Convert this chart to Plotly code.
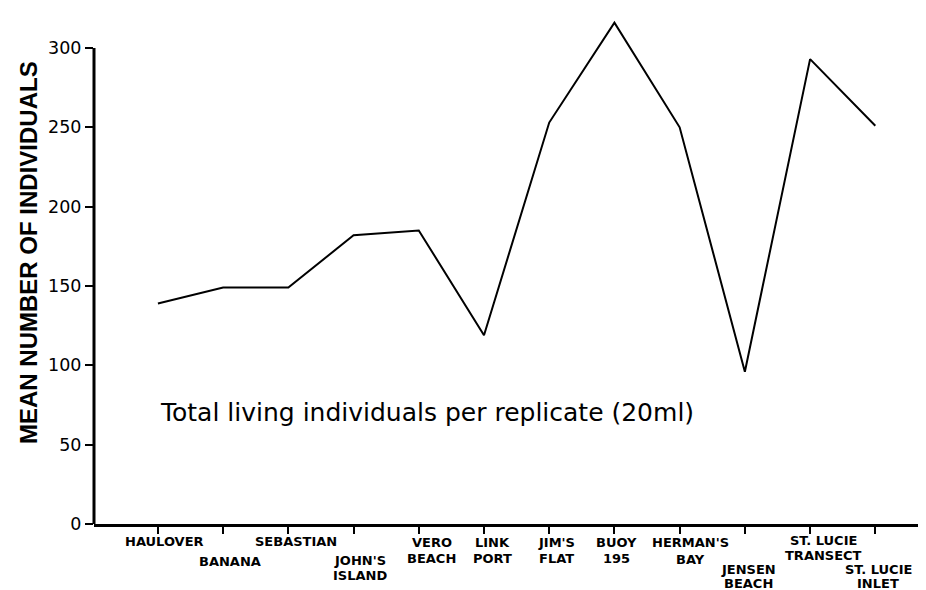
import plotly.graph_objects as go

# ---- data ----
stations = ["HAULOVER", "BANANA", "SEBASTIAN", "JOHN'S ISLAND", "VERO BEACH", "LINK PORT",
            "JIM'S FLAT", "BUOY 195", "HERMAN'S BAY", "JENSEN BEACH", "ST. LUCIE TRANSECT",
            "ST. LUCIE INLET"]
tick_lines = [["HAULOVER"], ["BANANA"], ["SEBASTIAN"], ["JOHN'S", "ISLAND"], ["VERO", "BEACH"],
              ["LINK", "PORT"], ["JIM'S", "FLAT"], ["BUOY", "195"], ["HERMAN'S", "BAY"],
              ["JENSEN", "BEACH"], ["ST. LUCIE", "TRANSECT"], ["ST. LUCIE", "INLET"]]
mean_individuals = [139, 149, 149, 182, 185, 119, 253, 316, 250, 96, 293, 251]
y_ticks = [0, 50, 100, 150, 200, 250, 300]

# ---- styling (pixel offsets of label lines below the x axis, and sideways nudges) ----
line_drop = [[17], [37], [17], [36, 51], [18, 34], [18, 34], [18, 34], [18, 34], [18, 35],
             [45, 59], [16, 31], [45, 59]]
label_xshift = [7, 7, 8, 6, 13, 8, 7, 2, 11, 4, 13, 3]
SANS = "Liberation Sans, Arial, sans-serif"
WIDE = "DejaVu Sans, Verdana, sans-serif"

xpos = list(range(len(stations)))

fig = go.Figure()
fig.add_trace(go.Scatter(
    x=xpos, y=mean_individuals, mode="lines",
    line=dict(color="black", width=2), hoverinfo="skip", showlegend=False,
))

fig.update_layout(
    width=926, height=590,
    margin=dict(l=86, r=0, t=0, b=74),
    paper_bgcolor="white", plot_bgcolor="white",
    showlegend=False,
    xaxis=dict(
        range=[-0.98, 11.9], tickvals=xpos, ticktext=[""] * len(xpos),
        showline=True, linecolor="black", linewidth=3,
        ticks="outside", ticklen=7, tickwidth=2, tickcolor="black",
        showgrid=False, zeroline=False,
    ),
    yaxis=dict(
        range=[0, 325.2], tickvals=y_ticks, ticktext=[str(v) for v in y_ticks],
        showline=False, ticks="outside", ticklen=8, tickwidth=2, tickcolor="black",
        tickfont=dict(family=WIDE, size=17.5, color="black"),
        showgrid=False, zeroline=False,
    ),
)

# y axis line stopping at 300
fig.add_shape(type="line", xref="paper", yref="y", x0=0, x1=0, y0=-2, y1=y_ticks[-1],
              line=dict(color="black", width=3))

# staggered category labels, one annotation per text line
for i, (lines, drops, dx) in enumerate(zip(tick_lines, line_drop, label_xshift)):
    for txt, dy in zip(lines, drops):
        fig.add_annotation(x=i, y=0, xref="x", yref="paper", text=txt, showarrow=False,
                           xanchor="center", yanchor="middle", yshift=-dy, xshift=dx,
                           font=dict(family=WIDE, size=13, color="black", weight="bold"),
                           borderpad=0)

# in-plot caption
fig.add_annotation(x=(150 - 86) / 840, y=(516 - 404) / 516, xref="paper", yref="paper",
                   text="Total living individuals per replicate (20ml)", showarrow=False,
                   xanchor="left", yanchor="middle",
                   font=dict(family=WIDE, size=25, color="black"))

# y axis title
fig.add_annotation(x=(21 - 86) / 840, y=(516 - 245) / 516, xref="paper", yref="paper",
                   text="MEAN NUMBER OF INDIVIDUALS", textangle=-90, showarrow=False,
                   xanchor="center", yanchor="middle",
                   font=dict(family=SANS, size=24, color="black", weight="bold"))

fig.write_html("out.html")
